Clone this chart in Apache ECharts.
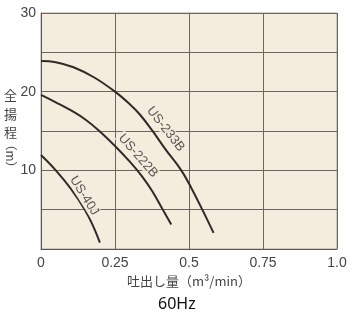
<!DOCTYPE html>
<html>
<head>
<meta charset="utf-8">
<script src="https://cdn.jsdelivr.net/npm/echarts@6/dist/echarts.min.js"></script>
<style>
  html, body { margin: 0; padding: 0; background: #fff; }
  #chart { width: 353px; height: 323px; }
</style>
</head>
<body>
<div id="chart"></div>
<script>
// 吐出し量 (m3/min) と 全揚程 (m) の読み取り値
const us233b = [[0, 23.9], [0.05, 23.75], [0.11, 23.1], [0.18, 21.8], [0.25, 20], [0.30, 18.4], [0.334, 17.1], [0.375, 15.1], [0.42, 12.7], [0.474, 10], [0.51, 7.6], [0.545, 5], [0.583, 2.05]]
const us222b = [[0, 19.6], [0.05, 18.65], [0.109, 17.45], [0.152, 16.4], [0.197, 15], [0.25, 13.1], [0.30, 11.1], [0.34, 9.3], [0.375, 7.4], [0.41, 5.1], [0.44, 3.1]]
const us40j = [[0, 11.95], [0.05, 10], [0.10, 7.7], [0.148, 5], [0.175, 3.0], [0.199, 0.8]]

// 曲線ラベル (名前, 位置)
const curveNames = ['US-233B', 'US-222B', 'US-40J']
const labelAnchors = [[0.421, 15.25], [0.328, 11.85], [0.146, 6.76]]
const labelAngles = [-52, -49, -58]

const xTicks = [0, 0.25, 0.5, 0.75, 1.0]
const yLabelTicks = [10, 20, 30]

const bg = '#f4ecdc'
const lineColor = '#2e2b28'
const gridColor = '#6d6660'
const tickFont = "'Liberation Sans Narrow', 'Liberation Sans', sans-serif"
const cjkFont = "'Liberation Sans Narrow', 'Noto Sans CJK JP', sans-serif"

const chart = echarts.init(document.getElementById('chart'))

const curveSeries = [us233b, us222b, us40j].map((data, i) => ({
  name: curveNames[i],
  type: 'line',
  data: data,
  smooth: 0.4,
  showSymbol: false,
  silent: true,
  lineStyle: { color: lineColor, width: 2 },
  z: 3
}))

const labelSeries = {
  type: 'scatter',
  symbolSize: 0,
  silent: true,
  z: 4,
  data: labelAnchors.map((p, i) => ({
    value: [p[0], p[1], curveNames[i]],
    label: { rotate: labelAngles[i] }
  })),
  label: {
    show: true,
    position: 'inside',
    formatter: p => p.value[2],
    color: '#333',
    fontFamily: "'Liberation Sans', sans-serif",
    fontSize: 13,
    backgroundColor: bg,
    padding: [0, 2]
  }
}

const option = {
  animation: false,
  title: {
    text: '60Hz',
    left: 158,
    top: 296,
    padding: 0,
    textStyle: { fontFamily: "'Noto Sans', sans-serif", fontSize: 16, fontWeight: 'normal', color: '#111' }
  },
  // 縦軸タイトル (全揚程（m）) — 括弧部分は回転
  graphic: [
    {
      type: 'text',
      left: 4,
      top: 86,
      style: {
        text: '全\n揚\n程',
        font: "13px 'Noto Sans CJK JP', sans-serif",
        lineHeight: 18.5,
        fill: '#444'
      }
    },
    {
      type: 'text',
      x: 10.5,
      y: 156,
      rotation: -Math.PI / 2,
      style: {
        text: '（m）',
        font: "12px 'Noto Sans CJK JP', sans-serif",
        fill: '#444',
        align: 'center',
        verticalAlign: 'middle'
      }
    }
  ],
  grid: {
    left: 41,
    right: 16,
    top: 13,
    bottom: 74,
    show: true,
    backgroundColor: bg,
    borderColor: '#a9a6a2',
    borderWidth: 1
  },
  xAxis: {
    type: 'value',
    min: 0,
    max: 1,
    interval: 0.25,
    name: '吐出し量（m³/min）',
    nameLocation: 'middle',
    nameGap: 23,
    nameTextStyle: { fontFamily: cjkFont, fontSize: 13, color: '#444' },
    axisLine: { show: true, lineStyle: { color: '#5a5550', width: 1 } },
    axisTick: { show: false },
    axisLabel: {
      margin: 7,
      fontFamily: tickFont,
      fontSize: 14,
      color: '#444',
      formatter: v => {
        const t = xTicks.find(x => Math.abs(x - v) < 1e-9)
        return t === 1 ? '1.0' : String(t)
      }
    },
    splitLine: { show: true, lineStyle: { color: gridColor, width: 1 } }
  },
  yAxis: {
    type: 'value',
    min: 0,
    max: 30,
    interval: 5,
    axisLine: { show: true, lineStyle: { color: '#5a5550', width: 1 } },
    axisTick: { show: false },
    axisLabel: {
      margin: 5,
      fontFamily: tickFont,
      fontSize: 14,
      color: '#444',
      formatter: v => (yLabelTicks.includes(v) ? String(v) : '')
    },
    splitLine: { show: true, lineStyle: { color: gridColor, width: 1 } }
  },
  series: [...curveSeries, labelSeries]
}

chart.setOption(option)
</script>
</body>
</html>
